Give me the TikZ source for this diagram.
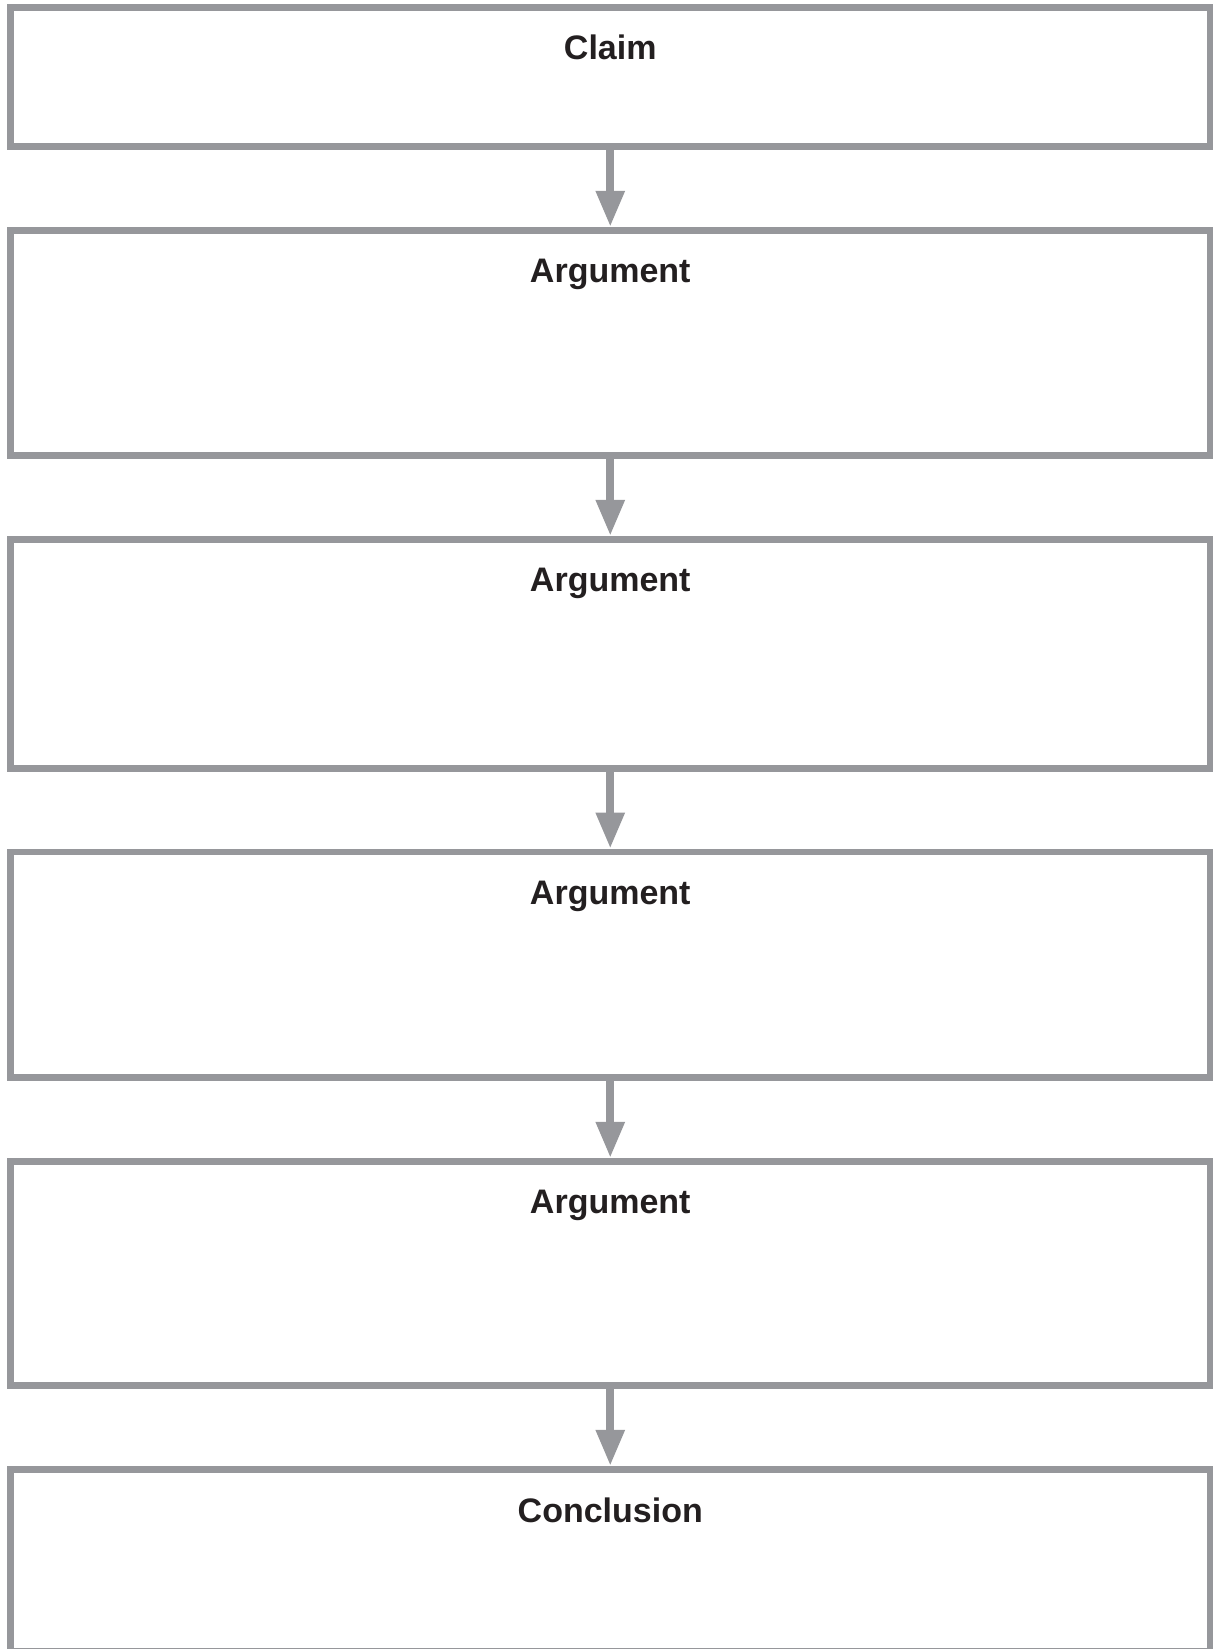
\documentclass[tikz,border=0pt]{standalone}
\usepackage{fontspec}
\setmainfont{Liberation Sans}
\usetikzlibrary{arrows.meta}
\definecolor{boxgray}{RGB}{150,151,155}
\definecolor{txt}{RGB}{35,31,32}
\tikzset{
  stagebox/.style={draw=boxgray, line width=6.7pt, minimum width=1199.5pt, inner sep=0pt, fill=white},
  stagetitle/.style={anchor=base, text=txt, font=\fontsize{34}{40}\selectfont\bfseries, inner sep=0pt},
  flowarrow/.style={draw=boxgray, line width=8.3pt, -{Triangle[length=36pt,width=27pt]}, shorten <=-1pt}
}
\begin{document}
\begin{tikzpicture}[x=1pt,y=-1pt]
\useasboundingbox (0,0) rectangle (1213,1649);
\node[stagebox, minimum height=138.8pt] (b1) at (610.25,76.9) {};
\node[stagebox, minimum height=225pt] (b2) at (610.25,342.8) {};
\node[stagebox, minimum height=229pt] (b3) at (610.25,653.8) {};
\node[stagebox, minimum height=225.3pt] (b4) at (610.25,964.65) {};
\node[stagebox, minimum height=224pt] (b5) at (610.25,1273.3) {};
\node[stagebox, minimum height=181.7pt] (b6) at (610.25,1560.15) {};
\node[stagetitle] (t1) at (610.25,59.5) {Claim};
\node[stagetitle] (t2) at (610.25,282) {Argument};
\node[stagetitle] (t3) at (610.25,591) {Argument};
\node[stagetitle] (t4) at (610.25,904) {Argument};
\node[stagetitle] (t5) at (610.25,1213) {Argument};
\node[stagetitle] (t6) at (610.25,1522) {Conclusion};
\draw[flowarrow] (b1.south) -- (b2.north);
\draw[flowarrow] (b2.south) -- (b3.north);
\draw[flowarrow] (b3.south) -- (b4.north);
\draw[flowarrow] (b4.south) -- (b5.north);
\draw[flowarrow] (b5.south) -- (b6.north);
\end{tikzpicture}
\end{document}
